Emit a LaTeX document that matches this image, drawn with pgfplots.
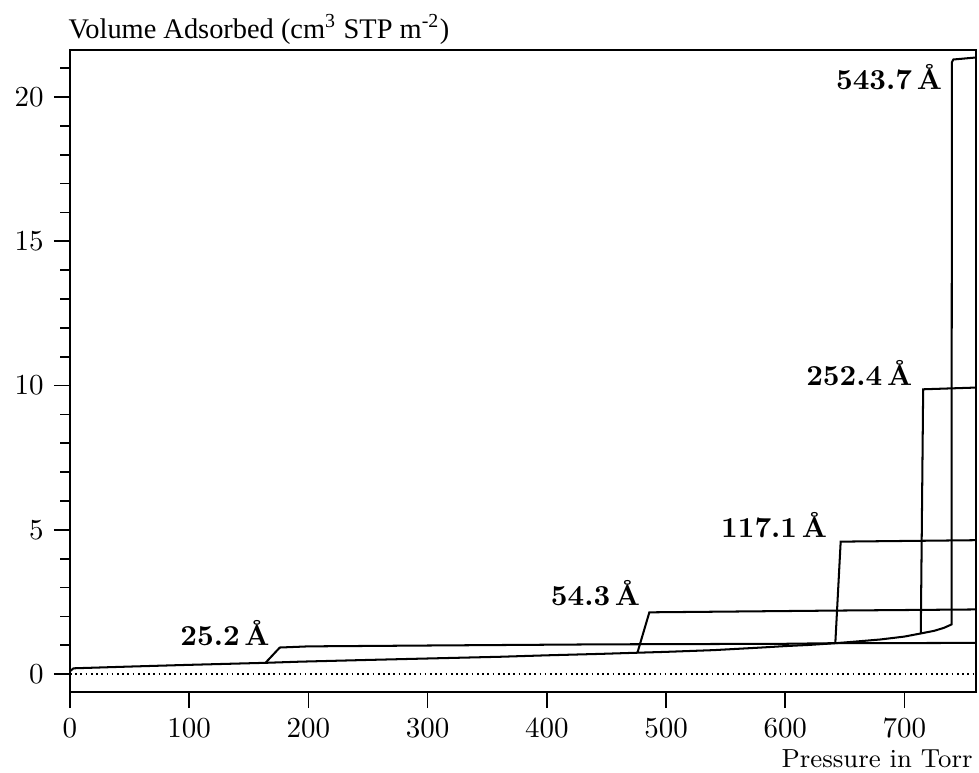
\documentclass[border=0pt]{standalone}
\usepackage{fontspec}
\usepackage{pgfplots}
\pgfplotsset{compat=1.18}
\newfontfamily\timesfont{Liberation Serif}
\begin{document}
\begin{tikzpicture}
\begin{axis}[
  name=ax,
  scale only axis,
  width=312.6pt, height=221.5pt,
  xmin=0, xmax=760, ymin=-0.62, ymax=21.63,
  axis line style={line width=0.7pt},
  tick style={line width=0.6pt, black},
  tick align=outside,
  tick pos=left,
  major tick length=5.6pt,
  minor tick length=3.4pt,
  xtick={0,100,...,700},
  ytick={0,5,10,15,20},
  minor ytick={1,2,3,4,6,7,8,9,11,12,13,14,16,17,18,19,21},
  every tick label/.append style={font=\normalsize},
  clip=false,
]
% zero line
\addplot[black, line width=0.6pt, dash pattern=on 0.6pt off 1.2pt] coordinates {(0,0) (760,0)};
% base curve + 543.7 A
\addplot[black, line width=0.7pt, sharp plot] coordinates {
(0,0.1) (3,0.2) (50,0.26) (100,0.32) (164,0.39) (193,0.43) (250,0.49) (300,0.54)
(361,0.6) (400,0.65) (445,0.7) (476,0.74) (500,0.77) (540,0.83) (580,0.92)
(600,0.97) (620,1.01) (642,1.07) (660,1.13) (680,1.2) (700,1.3) (714,1.41)
(725,1.5) (733,1.6) (739.5,1.72) (739.8,21.2) (741,21.3) (760,21.37)};
% 25.2 A
\addplot[black, line width=0.7pt, sharp plot] coordinates {
(164,0.39) (176,0.92) (200,0.96) (300,0.99) (445,1.03) (600,1.05) (640,1.07) (760,1.08)};
% 54.3 A
\addplot[black, line width=0.7pt, sharp plot] coordinates {
(476,0.74) (486,2.14) (640,2.2) (760,2.24)};
% 117.1 A
\addplot[black, line width=0.7pt, sharp plot] coordinates {
(642,1.07) (646.5,4.59) (760,4.64)};
% 252.4 A
\addplot[black, line width=0.7pt, sharp plot] coordinates {
(713.7,1.41) (715.7,9.87) (760,9.93)};
\node[anchor=east, font=\bfseries, inner sep=0pt] at (axis cs:732,20.7) {543.7\,Å};
\node[anchor=east, font=\bfseries, inner sep=0pt] at (axis cs:707,10.42) {252.4\,Å};
\node[anchor=east, font=\bfseries, inner sep=0pt] at (axis cs:635.6,5.16) {117.1\,Å};
\node[anchor=east, font=\bfseries, inner sep=0pt] at (axis cs:478.8,2.8) {54.3\,Å};
\node[anchor=east, font=\bfseries, inner sep=0pt] at (axis cs:168,1.43) {25.2\,Å};
\end{axis}
\node[anchor=base west, inner sep=0pt, font=\timesfont\fontsize{9.8}{11}\selectfont]
  at ([xshift=-0.7pt, yshift=4.1pt]ax.north west) {Volume Adsorbed (cm\textsuperscript{3} STP m\textsuperscript{-2})};
\node[anchor=base east, inner sep=0pt, font=\small]
  at ([xshift=-1pt, yshift=-26.2pt]ax.south east) {Pressure in Torr};
\pgfresetboundingbox
\path ([xshift=-24.15pt, yshift=-27.95pt]ax.south west) rectangle ([xshift=1.04pt, yshift=17.25pt]ax.north east);
\end{tikzpicture}
\end{document}
